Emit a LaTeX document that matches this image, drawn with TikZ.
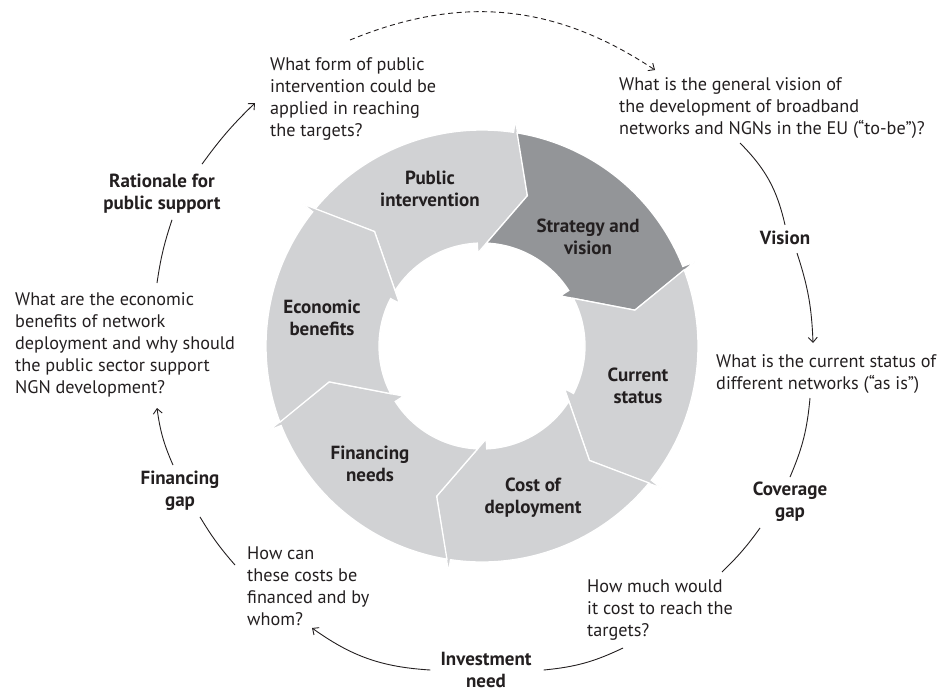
\documentclass[tikz,border=0pt]{standalone}
\usepackage{fontspec}
\setmainfont{PT Sans}
\usetikzlibrary{arrows.meta}
\definecolor{ringlight}{RGB}{209,210,212}
\definecolor{ringdark}{RGB}{147,149,152}
\definecolor{ink}{RGB}{35,31,32}

% one arrow piece of the ring: #1 = angle of its head, #2 = colour
\newcommand{\ringpiece}[2]{%
  \filldraw[fill=#2,draw=white,line width=1.3pt]
    ({#1+59.05}:216) arc[start angle={#1+59.05},end angle={#1},radius=216pt]
    -- ({#1}:229) -- ({#1-8.4}:157) -- ({#1+11}:93) -- ({#1+11}:103)
    arc[start angle={#1+11},end angle={#1+65.94},radius=103pt]
    -- ({#1+51.6}:157) -- cycle;}

\tikzset{
  question/.style={font=\fontsize{18.2}{22}\selectfont,text=ink,align=left,inner sep=0pt,anchor=north west},
  stage/.style={font=\fontsize{19}{22}\selectfont\bfseries,text=ink,align=center,inner sep=0pt},
  link/.style={draw=ink,line width=0.9pt},
}

\begin{document}
\begin{tikzpicture}[x=1pt,y=1pt,>={Straight Barb[length=5pt,width=9pt]}]
\useasboundingbox (0,0) rectangle (944,-691);

% the ring
\begin{scope}[shift={(482,-346)}]
  \ringpiece{81.6}{ringlight}
  \ringpiece{21.6}{ringdark}
  \ringpiece{-38.4}{ringlight}
  \ringpiece{-98.4}{ringlight}
  \ringpiece{-158.4}{ringlight}
  \ringpiece{141.6}{ringlight}
\end{scope}
\node[stage] (pubint) at (430,-189) {Public\\intervention};
\node[stage] (strat) at (588,-237) {Strategy and\\vision};
\node[stage] (curstat) at (638,-386) {Current\\status};
\node[stage] (costdep) at (533,-498) {Cost of\\deployment};
\node[stage] (finneed) at (370,-464) {Financing\\needs};
\node[stage] (econben) at (322,-318) {Economic\\benefits};

% questions and gaps round the ring
\node[question] (formq) at (270,-57) {What form of public\\intervention could be\\applied in reaching\\the targets?};
\node[question] (visionq) at (619,-77) {What is the general vision of\\the development of broadband\\networks and NGNs in the EU (“to-be”)?};
\node[stage] (vision) at (785,-238) {Vision};
\node[question] (statusq) at (716,-354) {What is the current status of\\different networks (“as is”)};
\node[stage] (covgap) at (790,-502) {Coverage\\gap};
\node[question] (costq) at (587,-580) {How much would\\it cost to reach the\\targets?};
\node[stage] (invneed) at (486,-670) {Investment\\need};
\node[question] (financeq) at (247,-547) {How can\\these costs be\\financed and by\\whom?};
\node[stage] (fingap) at (180,-491) {Financing\\gap};
\node[question] (benefitq) at (15,-292) {What are the economic\\benefits of network\\deployment and why should\\the public sector support\\NGN development?};
\node[stage] (ratio) at (162,-194) {Rationale for\\public support};

% connectors
\draw[link,dash pattern=on 5pt off 3.5pt,->] ([shift={(80,17)}]formq.north west) to[bend left=28] ([shift={(36,7)}]visionq.north west);
\draw[link] ([shift={(121,-66)}]visionq.north west) to[bend left=16] ([yshift=6]vision.north);
\draw[link,->] ([shift={(12,-8)}]vision.south) to[bend left=8] ([shift={(97,11)}]statusq.north west);
\draw[link] ([shift={(94,-44)}]statusq.north west) to[bend left=9] ([yshift=5]covgap.north);
\draw[link] ([shift={(-30,-6)}]covgap.south) to[bend left=5] ([shift={(135,8)}]costq.north west);
\draw[link] ([shift={(36,-68)}]costq.north west) to[bend left=10] ([xshift=12]invneed.east);
\draw[link,->] ([xshift=-10]invneed.west) to[bend left=16] ([shift={(65,-81)}]financeq.north west);
\draw[link] ([shift={(-12,-18)}]financeq.north west) to[bend left=5] ([shift={(20,-6)}]fingap.south);
\draw[link,->] ([shift={(-7,6)}]fingap.north) to[bend left=8] ([shift={(142,-116)}]benefitq.north west);
\draw[link] ([shift={(142,9)}]benefitq.north west) to[bend left=5] ([shift={(10,-6)}]ratio.south);
\draw[link,->] ([shift={(40,10)}]ratio.north) to[bend left=5] ([shift={(-15,-46)}]formq.north west);
\end{tikzpicture}
\end{document}
